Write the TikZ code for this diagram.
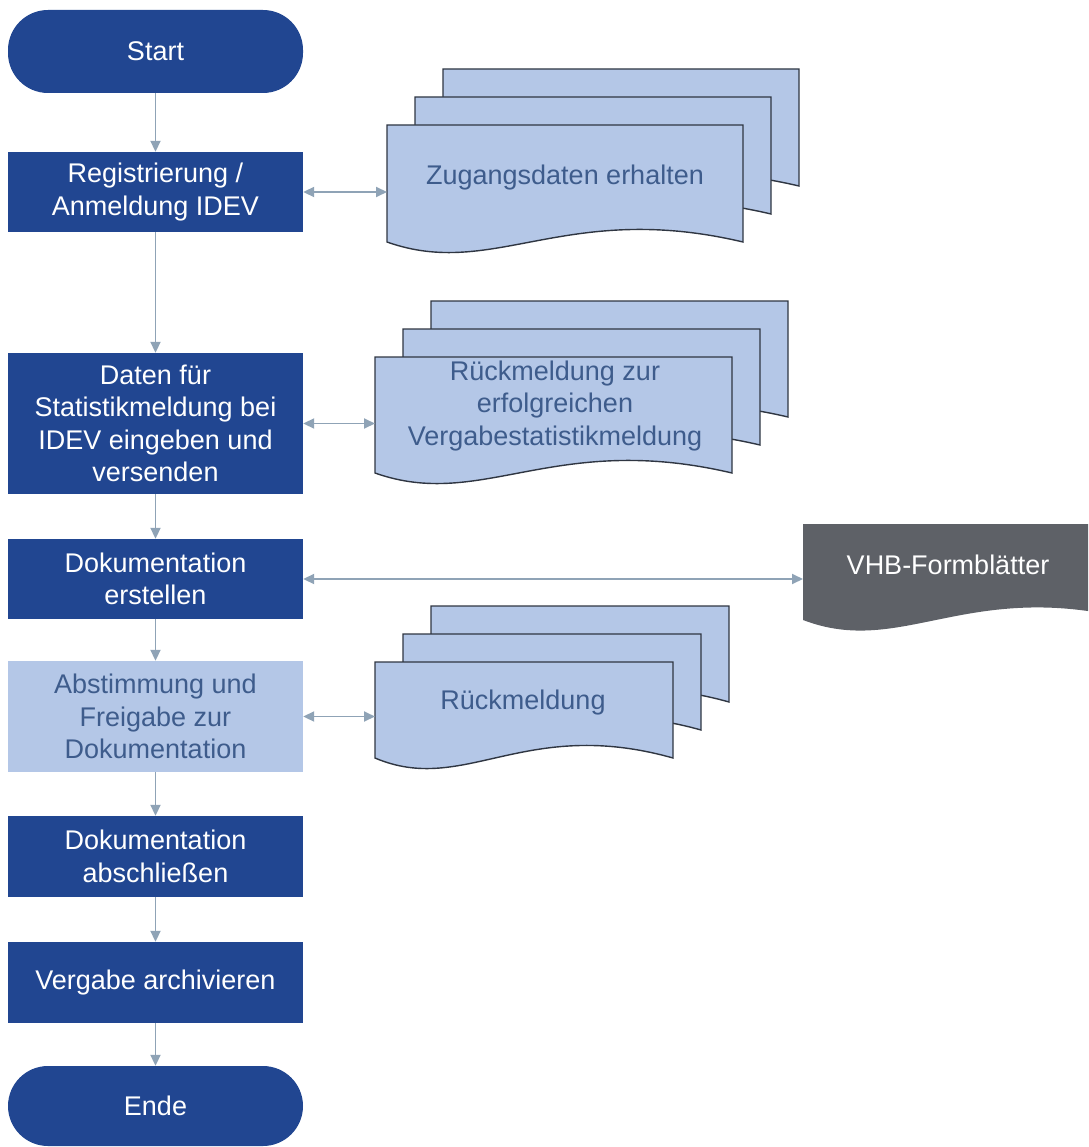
\documentclass[tikz,border=0pt]{standalone}
\usepackage{fontspec}
\setmainfont{Liberation Sans}
\usetikzlibrary{arrows.meta}
\definecolor{dblue}{RGB}{33,70,145}
\definecolor{lblue}{RGB}{180,199,231}
\definecolor{doctext}{RGB}{62,92,140}
\definecolor{docline}{RGB}{47,54,66}
\definecolor{vhbgray}{RGB}{94,97,103}
\definecolor{conncol}{RGB}{143,163,182}
% style, x, y (top), width, height
\newcommand\docshape[5]{%
  \path[#1] (#2,#3) -- ({#2+#4},#3) -- ({#2+#4},{#3+#5})
    .. controls ({#2+0.5*#4},{#3+#5-42}) and ({#2+0.3*#4},{#3+#5+38}) .. (#2,{#3+#5}) -- cycle;}
\begin{document}
\begin{tikzpicture}[x=1pt,y=-1pt,
  txt/.style={font=\fontsize{27}{32.5}\selectfont, align=center},
  stepbox/.style={txt, rectangle, fill=dblue, text=white, minimum width=295pt, inner sep=0pt},
  termbox/.style={stepbox, rounded corners=40pt},
  lightbox/.style={stepbox, fill=lblue, text=doctext},
  docsheet/.style={fill=lblue, draw=docline, line width=1.4pt},
  vhbsheet/.style={fill=vhbgray},
  doctxt/.style={txt, text=doctext},
  vhbtxt/.style={txt, text=white},
  conn/.style={draw=conncol, line width=1.9pt, -{Triangle[length=11pt,width=10pt]}},
  bconn/.style={conn, {Triangle[length=11pt,width=10pt]}-{Triangle[length=11pt,width=10pt]}}
]
\useasboundingbox (0,0) rectangle (1088,1147);
\clip (0,0) rectangle (1088,1147);

% main column
\node[termbox, minimum height=83pt] (start) at (155.5,51.5) {Start};
\node[stepbox, minimum height=80pt] (reg) at (155.5,192) {Registrierung /\\Anmeldung IDEV};
\node[stepbox, minimum height=141pt] (daten) at (155.5,423.5) {Daten für\\Statistikmeldung bei\\IDEV eingeben und\\versenden};
\node[stepbox, minimum height=80pt] (dok) at (155.5,579) {Dokumentation\\erstellen};
\node[lightbox, minimum height=111pt] (abst) at (155.5,716.5) {Abstimmung und\\Freigabe zur\\Dokumentation};
\node[stepbox, minimum height=81pt] (abschl) at (155.5,856.5) {Dokumentation\\abschließen};
\node[stepbox, minimum height=81pt] (verg) at (155.5,982.5) {Vergabe archivieren};
\node[termbox, minimum height=80pt] (ende) at (155.5,1106) {Ende};

% document stack 1
\docshape{docsheet}{443}{69}{356}{117}
\docshape{docsheet}{415}{97}{356}{117}
\docshape{docsheet}{387}{125}{356}{117}
\node[doctxt] (zug) at (565,178) {Zugangsdaten erhalten};
\coordinate (zugL) at (387,192);

% document stack 2
\docshape{docsheet}{431}{301}{357}{116}
\docshape{docsheet}{403}{329}{357}{116}
\docshape{docsheet}{375}{357}{357}{116}
\node[doctxt] (rz) at (555,406) {Rückmeldung zur\\erfolgreichen\\Vergabestatistikmeldung};
\coordinate (rzL) at (375,423.5);

% VHB document
\docshape{vhbsheet}{803}{524}{330}{96}
\node[vhbtxt] (vhb) at (948,565) {VHB-Formblätter};
\coordinate (vhbL) at (803,579);

% document stack 3
\docshape{docsheet}{431}{606}{298}{96}
\docshape{docsheet}{403}{634}{298}{96}
\docshape{docsheet}{375}{662}{298}{96}
\node[doctxt] (rk) at (523,703) {Rückmeldung};
\coordinate (rkL) at (375,716.5);

% connectors
\draw[conn] (start) -- (reg);
\draw[conn] (reg) -- (daten);
\draw[conn] (daten) -- (dok);
\draw[conn] (dok) -- (abst);
\draw[conn] (abst) -- (abschl);
\draw[conn] (abschl) -- (verg);
\draw[conn] (verg) -- (ende);
\draw[bconn] (reg.east) -- (zugL);
\draw[bconn] (daten.east) -- (rzL);
\draw[bconn] (dok.east) -- (vhbL);
\draw[bconn] (abst.east) -- (rkL);
\end{tikzpicture}
\end{document}
